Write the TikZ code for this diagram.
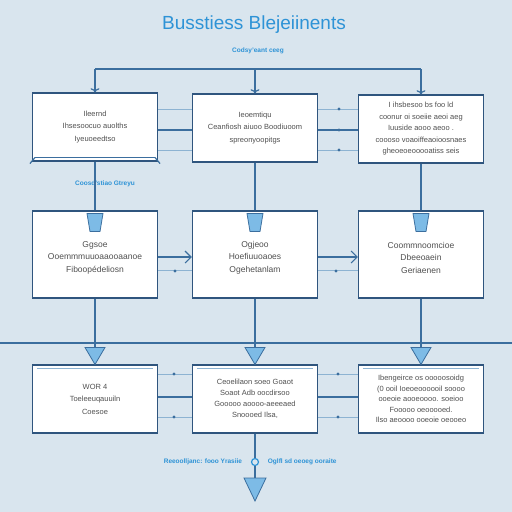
\documentclass[tikz,border=0pt]{standalone}
\usepackage{fontspec}
\setmainfont{Liberation Sans}
\usetikzlibrary{positioning,arrows.meta}
\definecolor{bgblue}{HTML}{D9E5EE}
\definecolor{linkblue}{HTML}{3B6E9E}
\definecolor{paleblue}{HTML}{8DB3D2}
\definecolor{titleblue}{HTML}{2E93D6}
\definecolor{markblue}{HTML}{7DBBE6}
\definecolor{boxtext}{HTML}{505050}
\definecolor{boxedge}{HTML}{2F557E}

\begin{document}
\begin{tikzpicture}[x=1pt,y=-1pt,line width=1pt,draw=linkblue]
    \tikzstyle{box}=[rectangle,draw=boxedge,fill=white,line width=1.1pt,minimum width=125pt,minimum height=68pt,inner sep=2pt,align=center,text=boxtext,font=\fontsize{7.5}{12.5}\selectfont]
    \tikzstyle{tall box}=[box,minimum height=87pt,font=\fontsize{8.5}{12.5}\selectfont]
    \tikzstyle{link}=[draw=linkblue,line width=1.2pt]
    \tikzstyle{thin link}=[draw=paleblue,line width=0.9pt]
    \tikzstyle{annot}=[text=titleblue,font=\fontsize{6.5}{8}\selectfont\bfseries]
    \tikzstyle{marker}=[fill=markblue,draw=linkblue,line width=0.8pt]
    \tikzstyle{barb}=[-{Straight Barb[length=6pt,width=12pt]}]

    \fill[bgblue] (0,0) rectangle (512,512);
    \useasboundingbox (0,0) rectangle (512,512);

    % Title
    \node[text=titleblue,font=\fontsize{19}{22}\selectfont] (title) at (254,25) {Busstiess Blejeiinents};
    \node[annot] (sub) at (258,51) {Codsy'eant ceeg};

    % Draw the first row
    \node[box] (A-1) at (95,127) {Ileernd\\Ihsesoocuo auolths\\Iyeuoeedtso};
    \node[box] (A-2) at (255,128) {Ieoemtiqu\\Ceanfiosh aiuoo Boodiuoom\\spreonyoopitgs};
    \node[box,font=\fontsize{7.5}{11.5}\selectfont] (A-3) at (421,129) {I ihsbesoo bs foo ld\\coonur oi soeiie aeoi aeg\\Iuuside aooo aeoo .\\coooso voaoiffeaoioosnaes\\gheoeoeooooatiss seis};
    \node[annot,below=15pt of A-1,xshift=10pt] (group) {Coosd'stiao Gtreyu};

    % Draw the second row
    \node[tall box] (B-1) at (95,254.5) {\\Ggsoe\\Ooemmmuuoaaooaanoe\\Fiboopédeliosn};
    \node[tall box] (B-2) at (255,254.5) {\\Ogjeoo\\Hoefiuuoaoes\\Ogehetanlam};
    \node[tall box] (B-3) at (421,254.5) {\\Coommnoomcioe\\Dbeeoaein\\Geriaenen};

    % Draw the third row
    \node[box] (C-1) at (95,399) {WOR 4\\Toeleeuqauuiln\\Coesoe};
    \node[box,font=\fontsize{7.5}{11}\selectfont] (C-2) at (255,399) {Ceoelilaon soeo Goaot\\Soaot Adb oocdirsoo\\Gooooo aoooo-aeeeaed\\Snoooed Ilsa,};
    \node[box,font=\fontsize{7.5}{10.5}\selectfont] (C-3) at (421,399) {Ibengeirce os ooooosoidg\\(0 ooil Ioeoeoooooil soooo\\ooeoie aooeoooo. soeioo\\Fooooo oeooooed.\\Ilso aeoooo ooeoie oeooeo};

    % Top bracket into the first row
    \coordinate (top-l) at (95,69);
    \coordinate (top-m) at (255,69);
    \coordinate (top-r) at (421,69);
    \draw[link] (top-l) -- (top-r);
    \draw[link,->] (top-l) -- (A-1.north);
    \draw[link,->] (top-m) -- (A-2.north);
    \draw[link,->] (top-r) -- (A-3.north);

    % Curled lower edge of the first box
    \draw[link,line width=1.8pt] ([xshift=3pt,yshift=4pt]A-1.south west) -- ([xshift=-3pt,yshift=4pt]A-1.south east);
    \draw[link] ([xshift=3pt,yshift=4pt]A-1.south west) -- ([xshift=-2pt,yshift=-2pt]A-1.south west);
    \draw[link] ([xshift=-3pt,yshift=4pt]A-1.south east) -- ([xshift=2pt,yshift=-2pt]A-1.south east);

    % Connect the boxes of the first row
    \foreach \source/\dest in {1/2,2/3}
        \foreach \y in {109,150}
            \draw[thin link] (A-\source.east |- 0,\y) -- (A-\dest.west |- 0,\y);
    \foreach \source/\dest in {1/2,2/3}
        \draw[link] (A-\source.east |- 0,130) -- (A-\dest.west |- 0,130);
    \foreach \y in {109,130,150}
        \fill[linkblue] (339,\y) circle (1.6pt);

    % Connect the first row with the second row
    \foreach \i in {1,2,3}
        \draw[link] (A-\i.south) -- (B-\i.north);
    \foreach \i in {1,2,3}
        \filldraw[marker] ([xshift=-8pt,yshift=-3pt]B-\i.north) -- ([xshift=8pt,yshift=-3pt]B-\i.north)
            -- ([xshift=5pt,yshift=-21pt]B-\i.north) -- ([xshift=-5pt,yshift=-21pt]B-\i.north) -- cycle;

    % Connect the boxes of the second row
    \foreach \source/\dest in {1/2,2/3} {
        \draw[link,barb] (B-\source.east |- 0,257) -- (B-\dest.west |- 0,257);
        \draw[thin link] (B-\source.east |- 0,270) -- (B-\dest.west |- 0,270);
    }
    \fill[linkblue] (175,271) circle (1.6pt);
    \fill[linkblue] (336,271) circle (1.6pt);

    % Draw the long bus line
    \coordinate (bus-l) at (0,343);
    \coordinate (bus-r) at (512,343);
    \draw[link] (bus-l) -- (bus-r);

    % Connect the second row with the third row
    \foreach \i in {1,2,3}
        \draw[link] (B-\i.south) -- (C-\i.north);
    \foreach \i in {1,2,3} {
        \filldraw[marker] ([xshift=-10pt,yshift=17pt]C-\i.north) -- ([xshift=10pt,yshift=17pt]C-\i.north) -- (C-\i.north) -- cycle;
        \draw[thin link,line width=0.6pt] ([xshift=5pt,yshift=-4pt]C-\i.north west) -- ([xshift=-5pt,yshift=-4pt]C-\i.north east);
    }

    % Connect the boxes of the third row
    \foreach \source/\dest in {1/2,2/3}
        \foreach \y in {374,417}
            \draw[thin link] (C-\source.east |- 0,\y) -- (C-\dest.west |- 0,\y);
    \foreach \source/\dest in {1/2,2/3}
        \draw[link] (C-\source.east |- 0,397) -- (C-\dest.west |- 0,397);
    \foreach \y in {374,417} {
        \fill[linkblue] (174,\y) circle (1.6pt);
        \fill[linkblue] (338,\y) circle (1.6pt);
    }

    % Output at the bottom
    \node[circle,draw=titleblue,line width=1.2pt,inner sep=0pt,minimum size=7pt] (knot) at (255,462) {};
    \coordinate (tip) at (255,478);
    \draw[link] (C-2.south) -- (knot);
    \draw[link] (knot) -- (tip);
    \filldraw[marker] ([xshift=-11pt]tip) -- ([xshift=11pt]tip) -- ([yshift=-23pt]tip) -- cycle;
    \node[annot,left=5pt of knot] (out-l) {Reeoolljanc: fooo Yrasiie};
    \node[annot,right=5pt of knot] (out-r) {Oglfl sd oeoeg ooraite};
\end{tikzpicture}
\end{document}
